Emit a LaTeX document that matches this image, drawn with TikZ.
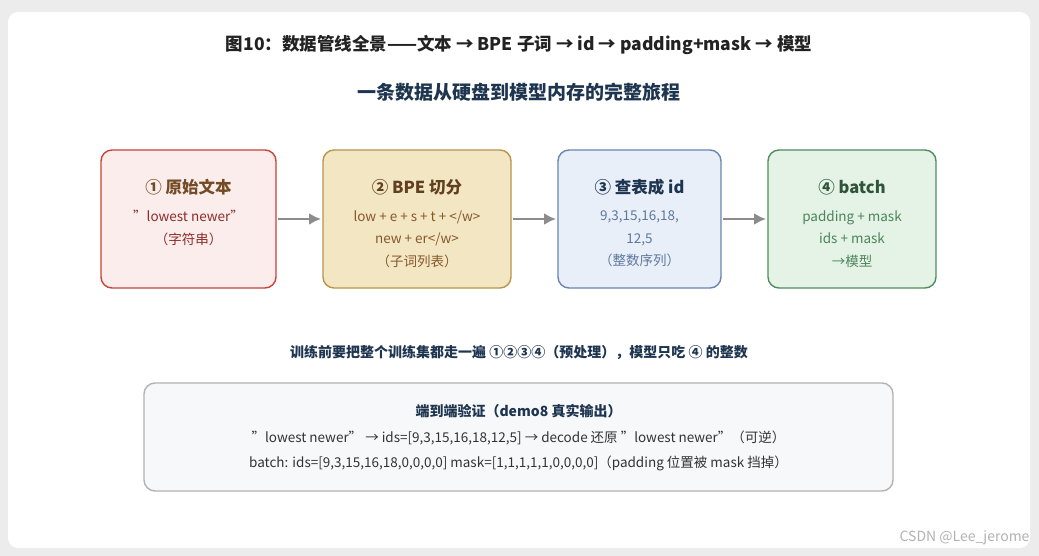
\documentclass[tikz,border=0pt]{standalone}
\usepackage{fontspec}
\setmainfont{Noto Sans CJK SC}[Ligatures=NoCommon]
\usetikzlibrary{arrows.meta}
\newcommand{\qq}{\symbol{34}}
\begin{document}
\begin{tikzpicture}[x=1pt,y=-1pt,
 stage/.style={draw=#1, line width=1.4pt, rounded corners=11pt},
 arr/.style={draw=gray!90, line width=2.4pt, -{Latex[length=12pt,width=12pt]}, shorten <=2pt, shorten >=2pt},
 ttl/.style={font=\fontsize{16.5}{18}\selectfont\bfseries},
 body/.style={font=\fontsize{13.5}{22.5}\selectfont, align=center}]
\fill[gray!15] (0,0) rectangle (1039,556);
\fill[white, rounded corners=10pt] (8,12) rectangle (1030,548);
\definecolor{dk}{HTML}{222222}
\definecolor{nv}{HTML}{1E3550}
\node[text=dk, font=\fontsize{17.5}{20}\selectfont\bfseries] (t) at (519,45) {图10：数据管线全景——文本 → BPE 子词 → id → padding+mask → 模型};
\node[text=nv, font=\fontsize{19}{22}\selectfont\bfseries] (st) at (519,92) {一条数据从硬盘到模型内存的完整旅程};
\definecolor{r1}{HTML}{C8423A}\definecolor{r1f}{HTML}{FBEDEC}
\definecolor{r2}{HTML}{B8954A}\definecolor{r2f}{HTML}{F3E6C3}
\definecolor{r3}{HTML}{6985B0}\definecolor{r3f}{HTML}{E8EFF9}
\definecolor{r4}{HTML}{4F8C60}\definecolor{r4f}{HTML}{E5F2E6}
\draw[stage=r1, fill=r1f] (101,150) rectangle (276,288);
\draw[stage=r2, fill=r2f] (323,150) rectangle (511,288);
\draw[stage=r3, fill=r3f] (558,150) rectangle (721,288);
\draw[stage=r4, fill=r4f] (768,150) rectangle (936,288);
\node[ttl, text=brown!60!black] (h1) at (188.5,187) {① 原始文本};
\node[body, text=r1!70!black] (c1) at (188.5,228) {\qq lowest newer\qq\\（字符串）};
\node[ttl, text=brown!50!black] (h2) at (417,187) {② BPE 切分};
\node[body, text=brown!70!black] (c2) at (417,239) {low + e + s + t + </w>\\new + er</w>\\（子词列表）};
\node[ttl, text=nv] (h3) at (639.5,187) {③ 查表成 id};
\node[body, text=r3!90!black] (c3) at (639.5,239) {9,3,15,16,18,\\12,5\\（整数序列）};
\node[ttl, text=r4!60!black] (h4) at (852,187) {④ batch};
\node[body, text=r4!95!black] (c4) at (852,239) {padding + mask\\ids + mask\\→模型};
\coordinate (a1s) at (276,219);\coordinate (a1e) at (323,219);
\coordinate (a2s) at (511,219);\coordinate (a2e) at (558,219);
\coordinate (a3s) at (721,219);\coordinate (a3e) at (768,219);
\draw[arr] (a1s) -- (a1e);\draw[arr] (a2s) -- (a2e);\draw[arr] (a3s) -- (a3e);
\node[text=nv, font=\fontsize{14}{16}\selectfont\bfseries] (note) at (519,353) {训练前要把整个训练集都走一遍 ①②③④（预处理），模型只吃 ④ 的整数};
\definecolor{bf}{HTML}{F7F8FA}
\draw[draw=gray!60, line width=1.4pt, fill=bf, rounded corners=11pt] (144,383) rectangle (893,491);
\node[text=nv, font=\fontsize{14}{16}\selectfont\bfseries] (bt) at (518.5,411) {端到端验证（demo8 真实输出）};
\node[body, text=gray!40!black] (bl1) at (518.5,438) {\qq lowest newer\qq{} → ids=[9,3,15,16,18,12,5] → decode 还原 \qq lowest newer\qq（可逆）};
\node[body, text=gray!40!black] (bl2) at (518.5,463) {batch: ids=[9,3,15,16,18,0,0,0,0] mask=[1,1,1,1,1,0,0,0,0]（padding 位置被 mask 挡掉）};
\node[text=gray!60, font=\fontsize{14}{16}\selectfont, anchor=east] (wm) at (1033,538) {CSDN @Lee\_jerome};
\end{tikzpicture}
\end{document}
